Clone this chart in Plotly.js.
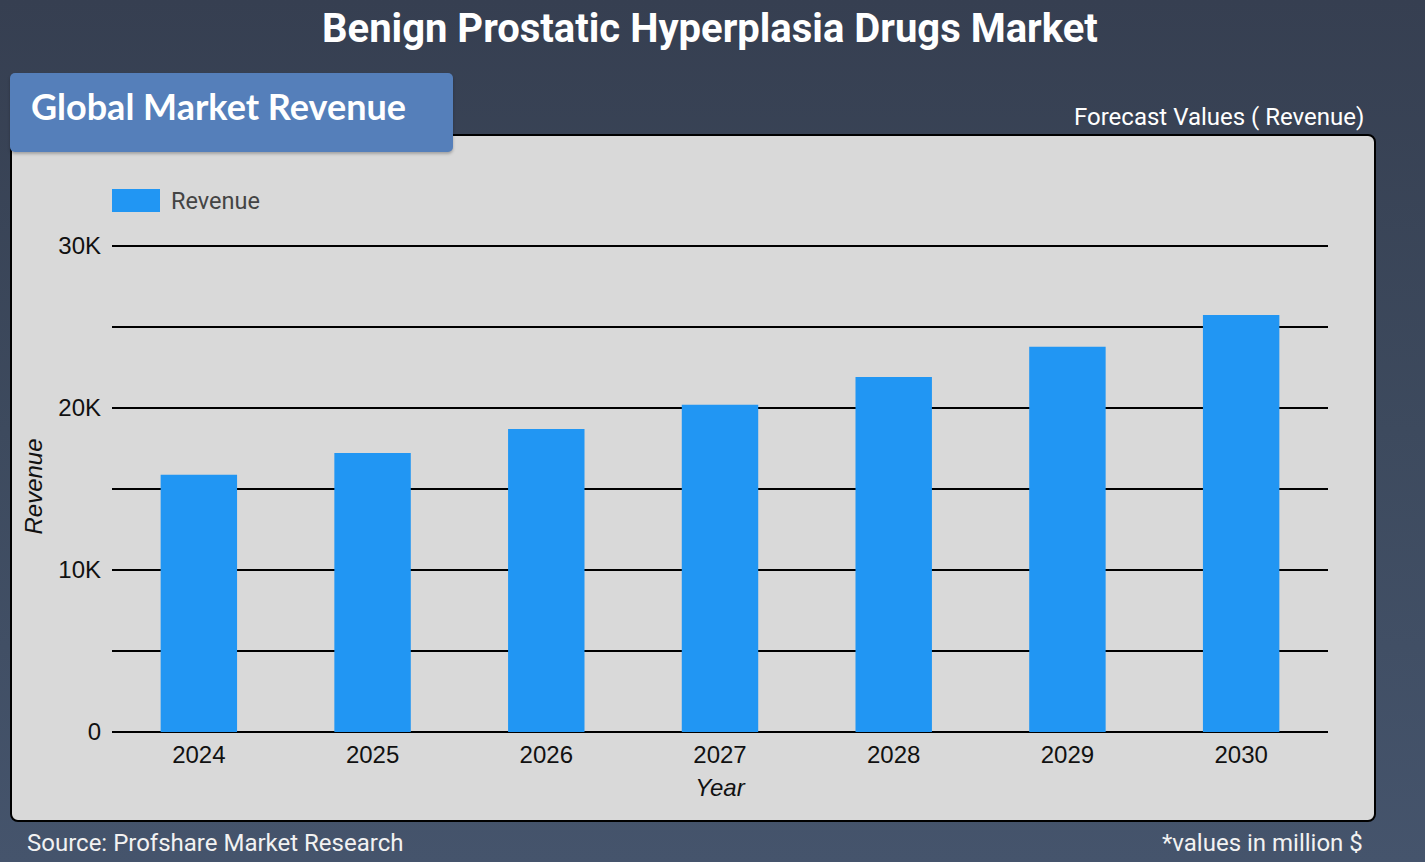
<!DOCTYPE html>
<html>
<head>
<meta charset="utf-8">
<script src="https://cdn.plot.ly/plotly-3.0.1.min.js"></script>
<style>
  html, body { margin: 0; padding: 0; }
  body {
    width: 1425px; height: 862px; overflow: hidden; position: relative;
    background: linear-gradient(to bottom, #363f51 0%, #3d4a5e 50%, #45546c 100%);
  }
  #panel {
    position: absolute; left: 10px; top: 134px; width: 1362px; height: 684px;
    background: #d9d9d9; border: 2px solid #000; border-radius: 8px;
  }
  #header {
    position: absolute; left: 10px; top: 73px; width: 443px; height: 79px;
    background: #557fba; border-radius: 5px;
    box-shadow: 0 2px 3px rgba(0,0,0,0.25);
  }
  #chart { position: absolute; left: 0; top: 0; width: 1425px; height: 862px; }
</style>
</head>
<body>
<div id="panel"></div>
<div id="header"></div>
<div id="chart"></div>
<script>
const years = ['2024', '2025', '2026', '2027', '2028', '2029', '2030'];
const revenue = [15870, 17220, 18700, 20190, 21910, 23770, 25740];
const yTickVals = [0, 5000, 10000, 15000, 20000, 25000, 30000];
const yTickText = ['0', '', '10K', '', '20K', '', '30K'];
const seriesName = 'Revenue';

// plot area in pixels: x 112..1328, y 241..732 (30K sits at y=246)
const L = 112, R = 1328, T = 241, B = 732;
const YMAX = 30300;
const px = v => (v - L) / (R - L);
const py = v => (B - v) / (B - T);

const trace = {
  type: 'bar',
  x: years,
  y: revenue,
  name: seriesName,
  marker: { color: '#2196f3' },
  showlegend: false,
  hoverinfo: 'x+y'
};

const tickFont = { family: 'Liberation Sans, Arial, sans-serif', size: 24, color: '#111' };
const axisTitleFont = { family: 'Liberation Sans, Arial, sans-serif', size: 24, color: '#111', style: 'italic' };

const layout = {
  width: 1425,
  height: 862,
  margin: { l: L, r: 1425 - R, t: T, b: 862 - B },
  paper_bgcolor: 'rgba(0,0,0,0)',
  plot_bgcolor: 'rgba(0,0,0,0)',
  bargap: 0.56,
  font: { family: 'Roboto, Arial, sans-serif', color: '#000' },
  xaxis: {
    type: 'category',
    tickfont: tickFont,
    showgrid: false,
    showline: false,
    ticks: '',
    ticklabelstandoff: 6,
    title: { text: 'Year', font: axisTitleFont, standoff: 12 },
    automargin: false
  },
  yaxis: {
    range: [0, YMAX],
    tickvals: yTickVals,
    ticktext: yTickText,
    tickfont: tickFont,
    showgrid: true,
    gridcolor: '#000',
    gridwidth: 2,
    zeroline: true,
    zerolinecolor: '#000',
    zerolinewidth: 2,
    ticks: '',
    ticklabelstandoff: 10,
    title: { text: 'Revenue', font: axisTitleFont, standoff: 8 },
    automargin: false
  },
  shapes: [
    { type: 'rect', xref: 'paper', yref: 'paper',
      x0: px(112), x1: px(160), y0: py(189), y1: py(212),
      fillcolor: '#2196f3', line: { width: 0 } }
  ],
  annotations: [
    { text: '<b>Benign Prostatic Hyperplasia Drugs Market</b>', xref: 'paper', yref: 'paper',
      x: px(710), y: py(28), xanchor: 'center', yanchor: 'middle', showarrow: false,
      font: { family: 'Roboto, sans-serif', size: 40, color: '#ffffff' } },
    { text: '<b>Global Market Revenue</b>', xref: 'paper', yref: 'paper',
      x: px(29), y: py(106), xanchor: 'left', yanchor: 'middle', showarrow: false,
      font: { family: 'Lato, sans-serif', size: 36, color: '#ffffff' } },
    { text: 'Forecast Values ( Revenue)', xref: 'paper', yref: 'paper',
      x: px(1366), y: py(117), xanchor: 'right', yanchor: 'middle', showarrow: false,
      font: { family: 'Roboto, sans-serif', size: 24, color: '#ffffff' } },
    { text: seriesName, xref: 'paper', yref: 'paper',
      x: px(169), y: py(201), xanchor: 'left', yanchor: 'middle', showarrow: false,
      font: { family: 'Roboto, sans-serif', size: 23.5, color: '#444444' } },
    { text: 'Source: Profshare Market Research', xref: 'paper', yref: 'paper',
      x: px(25), y: py(843), xanchor: 'left', yanchor: 'middle', showarrow: false,
      font: { family: 'Roboto, sans-serif', size: 24, color: '#f2f2f2' } },
    { text: '*values in million $', xref: 'paper', yref: 'paper',
      x: px(1365), y: py(843), xanchor: 'right', yanchor: 'middle', showarrow: false,
      font: { family: 'Roboto, sans-serif', size: 24, color: '#f2f2f2' } }
  ]
};

Plotly.newPlot('chart', [trace], layout, { displayModeBar: false, staticPlot: true });
</script>
</body>
</html>
